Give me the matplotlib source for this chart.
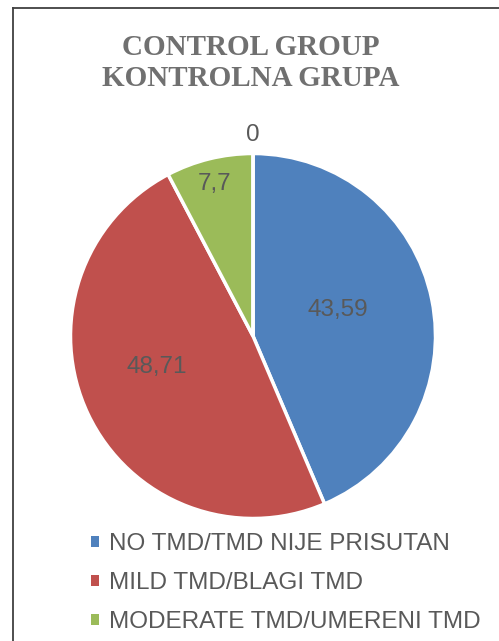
import numpy as np
import matplotlib
matplotlib.use("Agg")
import matplotlib.pyplot as plt
from matplotlib.lines import Line2D

categories = ['NO TMD/TMD NIJE PRISUTAN', 'MILD TMD/BLAGI TMD',
              'MODERATE TMD/UMERENI TMD', 'SEVERE TMD/TEŠKI TMD']
values = [43.59, 48.71, 7.7, 0]
value_labels = ['43,59', '48,71', '7,7', '0']
colors = ['#4F81BD', '#C0504D', '#9BBB59', '#8064A2']

W, H = 499, 641


def draw():
    fig = plt.figure(figsize=(W / 100, H / 100), dpi=100)
    ax = fig.add_axes([0, 0, 1, 1])

    cx, cy, r = 253, H - 336, 182.5
    wedges, _ = ax.pie(values, colors=colors, startangle=90, counterclock=False,
                       center=(cx, cy), radius=r, frame=True,
                       wedgeprops=dict(edgecolor='white', linewidth=2.5))
    ax.set_xlim(0, W)
    ax.set_ylim(0, H)
    ax.set_aspect('equal')
    ax.axis('off')

    # label placement (Excel "best fit" look): distance factor and angle nudge
    dist = [0.49, 0.55, 0.87, 1.11]
    nudge = [6.5, -8.5, 0, 0]
    for w, lab, d, n in zip(wedges, value_labels, dist, nudge):
        ang = np.deg2rad((w.theta1 + w.theta2) / 2 + n)
        ax.text(cx + d * r * np.cos(ang), cy + d * r * np.sin(ang) - 2, lab,
                ha='center', va='center', fontsize=17.5, color='#595959',
                family='Liberation Sans')

    fig.text(0.503, 1 - 47.5 / H, 'CONTROL GROUP', ha='center', va='center',
             fontsize=21, fontweight='bold', color='#707070', family='Liberation Serif')
    fig.text(0.503, 1 - 78.5 / H, 'KONTROLNA GRUPA', ha='center', va='center',
             fontsize=21, fontweight='bold', color='#707070', family='Liberation Serif')

    leg = fig.legend(wedges[:3], categories[:3], loc='upper left',
                     bbox_to_anchor=(69 / W, 1 - 511 / H), frameon=False,
                     handlelength=0.33, handleheight=0.33, handletextpad=0.4,
                     labelspacing=0.7, prop={'family': 'Liberation Sans', 'size': 17.5})
    for t in leg.get_texts():
        t.set_color('#595959')
    for h in leg.legend_handles:
        h.set_edgecolor('none')

    # chart frame (top and left edges visible)
    fig.add_artist(Line2D([12.5 / W, 1], [1 - 7.5 / H, 1 - 7.5 / H],
                          transform=fig.transFigure, color='#404040', linewidth=1.3))
    fig.add_artist(Line2D([12.5 / W, 12.5 / W], [0, 1 - 7.5 / H],
                          transform=fig.transFigure, color='#404040', linewidth=1.3))

    fig.savefig('out.png', dpi=100, facecolor='white')


def main():
    draw()


if __name__ == "__main__":
    main()
